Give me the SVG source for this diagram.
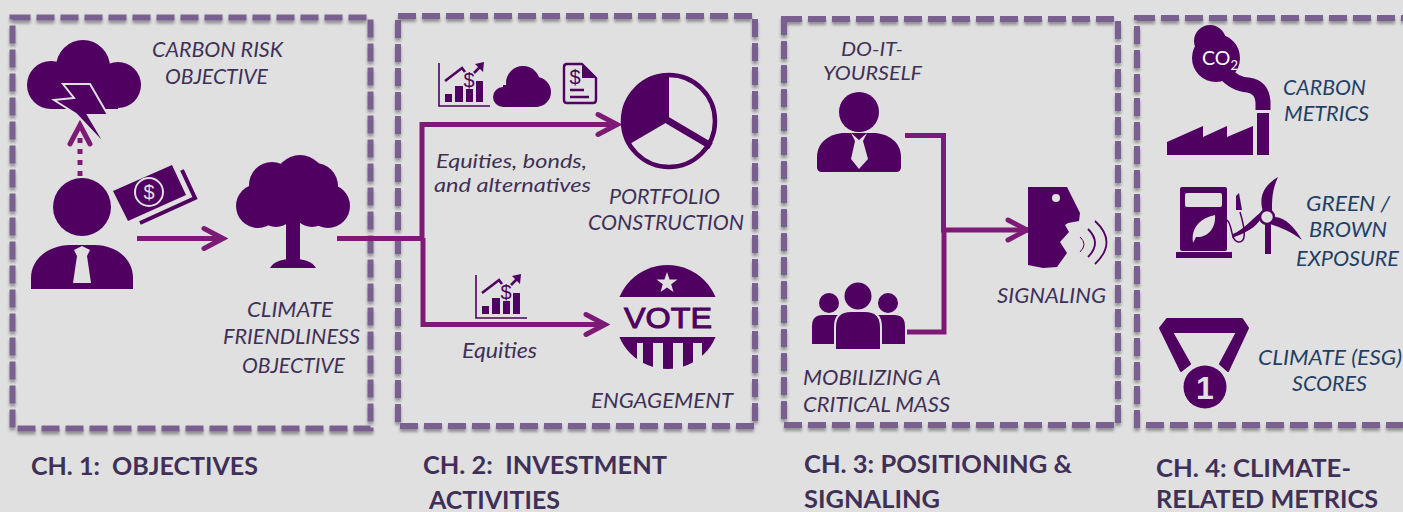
<svg xmlns="http://www.w3.org/2000/svg" xmlns:xlink="http://www.w3.org/1999/xlink" width="1403" height="512" viewBox="0 0 1403 512">
<style>
.box{fill:none;stroke:#7a6090;stroke-width:6;stroke-dasharray:18 6;filter:url(#sh)}
.ic{fill:#4f0060}
.bg{fill:#e0e0e0}
.cut{fill:#4f0060;stroke:#e0e0e0;stroke-width:2}
.line{fill:none;stroke:#4f0060}
.con{fill:none;stroke:#7d1a76;stroke-width:5}
.arr{marker-end:url(#chev)}
text{font-family:Lato,"Liberation Sans",sans-serif}
.lb{font-style:italic;font-size:22px;fill:#3f3057}
.sm{font-size:20px}
.lm{font-style:italic;font-size:22px;fill:#1f3f66}
.hd{font-weight:700;font-size:25px;fill:#3f3057}
.ds{font-family:"Liberation Sans",sans-serif;font-size:20px;fill:#4f0060;text-anchor:middle}
</style>
<defs>
<filter id="sh" x="-5%" y="-5%" width="110%" height="110%"><feDropShadow dx="0" dy="3" stdDeviation="1.6" flood-color="#000" flood-opacity="0.35"/></filter>
<marker id="chev" markerUnits="userSpaceOnUse" viewBox="-24 -14 28 28" refX="0" refY="0" markerWidth="28" markerHeight="28" orient="auto">
<path d="M-20 -10L-1 0L-20 10" fill="none" stroke="#7d1a76" stroke-width="5" stroke-linecap="round" stroke-linejoin="miter"/>
</marker>
<clipPath id="voteclip"><circle cx="667.5" cy="317" r="52"/></clipPath>
<g id="chart">
<path class="line" stroke-width="1.6" d="M439 63V106H490"/>
<path class="ic" d="M445 94h7v8h-7zM455 86h8v16h-8zM466 89h7v13h-7zM476 81h7v21h-7z"/>
<path class="line" stroke-width="2.6" d="M445 81L462 68L465 72M474 73L481 66"/>
<path class="ic" d="M484 62L483 72L475 64Z"/>
<text class="ds" x="469" y="87">$</text>
</g>
</defs>
<rect width="1403" height="512" class="bg"/>

<g id="frames">
<rect class="box" x="12.500" y="17.500" width="358" height="411"/>
<rect class="box" x="398" y="16" width="357" height="410"/>
<rect class="box" x="784" y="19" width="334" height="406"/>
<rect class="box" x="1137" y="18" width="290" height="407"/>
</g>

<g id="connectors">
<path class="con" stroke-dasharray="5 6 5 6 5 6 5 6 0 99" style="marker-end:url(#chev)" d="M80 176V124"/>
<path class="con arr" d="M137 238.500H224"/>
<path class="con" d="M337 238.500H424"/>
<path class="con arr" d="M422 240V124.500H618"/>
<path class="con arr" d="M423 238V324.500H606"/>
<path class="con" d="M905 135.500H943.500V232"/>
<path class="con" d="M907 332H944V228"/>
<path class="con arr" d="M941 230H1028"/>
</g>

<g id="carbon-risk">
<circle class="ic" cx="83" cy="67" r="27"/><circle class="ic" cx="51" cy="85" r="24"/><circle class="ic" cx="118" cy="85" r="23"/><rect class="ic" x="51" y="70" width="67" height="39"/>
<path class="cut" stroke-width="2.500" d="M63 84H90L108 115H88L107 147L76 114L54 100L74 98Z"/>
<text class="lb" x="152" y="57" textLength="131" lengthAdjust="spacingAndGlyphs">CARBON RISK</text>
<text class="lb" x="165" y="84" textLength="103" lengthAdjust="spacingAndGlyphs">OBJECTIVE</text>
</g>

<g id="investor">
<circle class="ic" cx="82" cy="207" r="29"/>
<path class="ic" d="M31 289V278C31 258 50 245 70 245H95C115 245 133 258 133 278V289Z"/>
<path class="bg" d="M74 250L82 246L90 250L87 256L91 283H73L77 256Z"/>
<path class="ic" d="M113 191L172 165L186 195L128 221Z"/>
<circle cx="149" cy="192" r="14" fill="none" stroke="#e0e0e0" stroke-width="2"/>
<text class="ds" x="149" y="199" style="fill:#e0e0e0">$</text>
<path class="line" stroke-width="4" d="M182 170L195 198L140 223"/>
</g>

<g id="climate-friendliness">
<circle class="ic" cx="258" cy="206" r="22"/><circle class="ic" cx="328" cy="206" r="22"/><circle class="ic" cx="272" cy="185" r="23"/><circle class="ic" cx="300" cy="180" r="25"/><circle class="ic" cx="312" cy="208" r="19"/><circle class="ic" cx="276" cy="208" r="19"/><circle class="ic" cx="315" cy="186" r="23"/><rect class="ic" x="260" y="185" width="65" height="38"/>
<rect class="ic" x="286" y="220" width="14" height="42"/>
<path class="ic" d="M270 268Q275 259 293 259Q311 259 316 268Z"/>
<text class="lb" x="247" y="317" textLength="86" lengthAdjust="spacingAndGlyphs">CLIMATE</text>
<text class="lb" x="223" y="344" textLength="137" lengthAdjust="spacingAndGlyphs">FRIENDLINESS</text>
<text class="lb" x="242" y="373" textLength="103" lengthAdjust="spacingAndGlyphs">OBJECTIVE</text>
</g>

<g id="asset-icons">
<use href="#chart"/>
<circle class="ic" cx="523" cy="83" r="17"/><circle class="ic" cx="503" cy="97" r="10"/><circle class="ic" cx="536" cy="92" r="15"/><rect class="ic" x="503" y="85" width="35" height="22"/>
<path class="line" stroke-width="2.400" stroke-linejoin="round" d="M582 64H567Q564 64 564 67V100Q564 103 567 103H593Q596 103 596 100V78Z"/>
<path class="ic" d="M582 64L597 78H582Z"/>
<text class="ds" x="575" y="84">$</text>
<path class="line" stroke-width="2.400" d="M570 90H584M570 97H589"/>
<text class="lb sm" x="436" y="168" textLength="151" lengthAdjust="spacingAndGlyphs">Equities, bonds,</text>
<text class="lb sm" x="434" y="192" textLength="157" lengthAdjust="spacingAndGlyphs">and alternatives</text>
</g>

<g id="portfolio-construction">
<circle class="line" cx="669" cy="121" r="46" stroke-width="4.500"/>
<path class="ic" d="M669 121V73A48 48 0 0 0 628 145Z"/>
<path class="line" stroke-width="7" d="M667 120L711 146"/>
<text class="lb" x="609" y="204" textLength="111" lengthAdjust="spacingAndGlyphs">PORTFOLIO</text>
<text class="lb" x="588" y="230" textLength="156" lengthAdjust="spacingAndGlyphs">CONSTRUCTION</text>
</g>

<g id="engagement-icons">
<use href="#chart" x="37" y="212"/>
<text class="lb" x="462" y="358" textLength="75" lengthAdjust="spacingAndGlyphs">Equities</text>
</g>

<g id="engagement">
<g clip-path="url(#voteclip)">
<rect class="ic" x="610" y="260" width="116" height="37"/>
<path class="ic" d="M610 337H726V343H610ZM610 343H637V375H610ZM643 343H653V375H643ZM663 343H673V375H663ZM683 343H693V375H683ZM702 343H726V375H702Z"/>
</g>
<path class="bg" d="M667 272L669.600 279.500L677.500 279.500L671.200 284.300L673.500 292L667 287.500L660.500 292L662.800 284.300L656.500 279.500L664.400 279.500Z"/>
<text x="668" y="328" text-anchor="middle" textLength="88" lengthAdjust="spacingAndGlyphs" style="font-family:'Liberation Sans',sans-serif;font-size:30px;fill:#4f0060;stroke:#4f0060;stroke-width:1">VOTE</text>
<text class="lb" x="591" y="408" textLength="142" lengthAdjust="spacingAndGlyphs">ENGAGEMENT</text>
</g>

<g id="do-it-yourself">
<circle class="ic" cx="859" cy="112" r="20"/>
<path class="ic" d="M817 167V157C817 142 830 133 845 133H873C888 133 901 142 901 157V167Q901 172 896 172H822Q817 172 817 167Z"/>
<path class="bg" d="M851 133L855 141L851 159L859 169L868 159L863 141L867 133L859 140Z"/>
<text class="lb sm" x="841" y="56" textLength="62" lengthAdjust="spacingAndGlyphs">DO-IT-</text>
<text class="lb sm" x="823" y="80" textLength="99" lengthAdjust="spacingAndGlyphs">YOURSELF</text>
</g>

<g id="critical-mass">
<circle class="ic" cx="829" cy="303" r="10"/><circle class="ic" cx="888" cy="303" r="10"/><circle class="ic" cx="858" cy="296" r="13.500"/>
<path class="ic" d="M812 344V326Q812 315 823 315H840V344ZM905 344V326Q905 315 894 315H877V344Z"/>
<path class="cut" d="M835 350V327Q835 311 851 311H865Q881 311 881 327V350Z"/>
<text class="lb" x="803" y="385" textLength="138" lengthAdjust="spacingAndGlyphs">MOBILIZING A</text>
<text class="lb" x="803" y="412" textLength="147" lengthAdjust="spacingAndGlyphs">CRITICAL MASS</text>
</g>

<g id="signaling">
<path class="ic" d="M1028 187H1067L1080 213L1079 221L1068 223L1065 225L1069 232L1060 242L1067 253L1057 267L1043 268L1028 265Z"/>
<circle class="bg" cx="1056" cy="198" r="4"/>
<path class="line" stroke-width="1.800" d="M1095 221Q1118 242 1095 264"/>
<path class="line" stroke-width="1.800" d="M1088 229Q1102 243 1088 257"/>
<path class="line" stroke-width="1" d="M1080 237Q1088 244 1080 252"/>
<text class="lb" x="997" y="303" textLength="109" lengthAdjust="spacingAndGlyphs">SIGNALING</text>
</g>

<g id="carbon-metrics">
<path class="ic" d="M1167 155V142L1203 126V137L1227 126V137L1253 126V155Z"/>
<rect class="ic" x="1257" y="113" width="12" height="42"/>
<circle class="ic" cx="1210" cy="41" r="16"/><circle class="ic" cx="1216" cy="58" r="24"/>
<path class="line" stroke-width="15" d="M1263 110V102Q1262 87 1248 85Q1234 84 1224 72"/>
<text x="1202" y="65" style="font-size:19.500px;fill:#fff">CO<tspan dy="5" font-size="13">2</tspan></text>
<text class="lm" x="1283" y="95" textLength="83" lengthAdjust="spacingAndGlyphs">CARBON</text>
<text class="lm" x="1284" y="121" textLength="85" lengthAdjust="spacingAndGlyphs">METRICS</text>
</g>

<g id="green-brown">
<rect class="ic" x="1180" y="187" width="47" height="64" rx="2"/>
<rect class="ic" x="1176" y="252" width="56" height="6"/>
<rect class="bg" x="1185" y="193" width="37" height="14" rx="2"/>
<path class="bg" d="M1193 242C1191 228 1200 218 1215 215C1216 228 1208 238 1196 237L1193 243Z"/>
<path class="line" stroke-width="1.500" d="M1227 220C1233 225 1230 240 1238 242C1246 243 1246 232 1240 212"/>
<path class="ic" d="M1236 196L1239 193L1242 210H1236Z"/>
<path class="ic" d="M1263 212C1258 195 1265 185 1278 177C1272 190 1272 200 1272 211ZM1273 217C1285 216 1295 228 1302 240C1292 232 1282 228 1270 224ZM1262 217C1256 228 1245 233 1232 238L1233 234C1243 230 1251 220 1260 213Z"/>
<rect class="ic" x="1265" y="222" width="6" height="32"/>
<circle class="bg" cx="1267" cy="217" r="7" stroke="#4f0060" stroke-width="2.500"/>
<text class="lm" x="1306" y="211" textLength="84" lengthAdjust="spacingAndGlyphs">GREEN /</text>
<text class="lm" x="1309" y="237" textLength="78" lengthAdjust="spacingAndGlyphs">BROWN</text>
<text class="lm" x="1296" y="266" textLength="103" lengthAdjust="spacingAndGlyphs">EXPOSURE</text>
</g>

<g id="esg-scores">
<path class="ic" stroke="#4f0060" stroke-width="2" stroke-linejoin="round" d="M1167 319H1242L1248 328L1228 371L1220 364L1237 332H1172L1190 364L1181 371L1160 328Z"/>
<circle class="ic" cx="1205" cy="387" r="21.500"/>
<text x="1205" y="399" text-anchor="middle" style="font-family:'Liberation Sans',sans-serif;font-weight:700;font-size:32px;fill:#e0e0e0">1</text>
<text class="lm" x="1258" y="365" textLength="144" lengthAdjust="spacingAndGlyphs">CLIMATE (ESG)</text>
<text class="lm" x="1292" y="391" textLength="75" lengthAdjust="spacingAndGlyphs">SCORES</text>
</g>

<g id="headings">
<text class="hd" x="31" y="475" textLength="227" lengthAdjust="spacingAndGlyphs" xml:space="preserve">CH. 1:  OBJECTIVES</text>
<text class="hd" x="423" y="474" textLength="244" lengthAdjust="spacingAndGlyphs" xml:space="preserve">CH. 2:  INVESTMENT</text>
<text class="hd" x="429" y="509" textLength="131" lengthAdjust="spacingAndGlyphs">ACTIVITIES</text>
<text class="hd" x="804" y="473" textLength="268" lengthAdjust="spacingAndGlyphs">CH. 3: POSITIONING &amp;</text>
<text class="hd" x="804" y="508" textLength="136" lengthAdjust="spacingAndGlyphs">SIGNALING</text>
<text class="hd" x="1156" y="477" textLength="195" lengthAdjust="spacingAndGlyphs">CH. 4: CLIMATE-</text>
<text class="hd" x="1156" y="508" textLength="222" lengthAdjust="spacingAndGlyphs">RELATED METRICS</text>
</g>
</svg>
